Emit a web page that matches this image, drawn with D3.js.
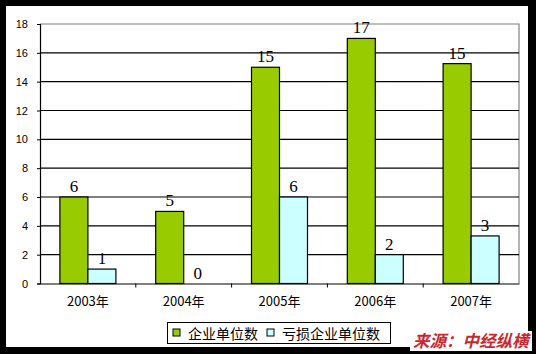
<!DOCTYPE html>
<html><head><meta charset="utf-8">
<script src="https://cdn.jsdelivr.net/npm/d3@7"></script>
<style>body{margin:0;background:#000;}svg{display:block;}</style>
</head><body>
<svg id="c" width="536" height="354"></svg>
<script>
const categories = ["2003年","2004年","2005年","2006年","2007年"];
const seriesNames = ["企业单位数","亏损企业单位数"];
const enterprises = [6, 5, 15, 17, 15.25];
const lossEnterprises = [1, 0, 6, 2, 3.3];
const yTicks = [0,2,4,6,8,10,12,14,16,18];
const colors = ["#99cc00","#ccffff"];

const svg = d3.select("#c");
svg.append("rect").attr("width",536).attr("height",354).attr("fill","#000");
svg.append("rect").attr("x",6).attr("y",6).attr("width",522).attr("height",341).attr("fill","#fff");

const L=40, R=519, T=24, B=283.5;
const x = d3.scaleBand().domain(categories).range([L,R]);
const xs = d3.scaleBand().domain([0,1]).range([0,56]);
const y = d3.scaleLinear().domain([0,18]).range([B,T]);

// plot border (gray top/right)
svg.append("path").attr("d",`M${L},${T}H${R}V${B}`).attr("fill","none").attr("stroke","#808080").attr("stroke-width",1.2);
// gridlines
svg.append("g").selectAll("line").data(yTicks.filter(t=>t>0&&t<18)).join("line")
  .attr("x1",L).attr("x2",R).attr("y1",d=>y(d)).attr("y2",d=>y(d))
  .attr("stroke","#000").attr("stroke-width",1.2);

const data = [enterprises, lossEnterprises];
const g = svg.append("g");
data.forEach((vals,si)=>{
  g.selectAll(".b"+si).data(vals).join("rect")
    .attr("x",(d,i)=>x(categories[i])+(x.bandwidth()-56)/2+xs(si))
    .attr("y",d=>y(d)).attr("width",xs.bandwidth()).attr("height",d=>B-y(d))
    .attr("fill",colors[si]).attr("stroke","#000").attr("stroke-width",1.2);
  g.selectAll(".t"+si).data(vals).join("text")
    .attr("x",(d,i)=>x(categories[i])+(x.bandwidth()-56)/2+xs(si)+xs.bandwidth()/2)
    .attr("y",d=>y(d)-5)
    .attr("text-anchor","middle").attr("font-family","Liberation Serif, serif").attr("font-size",17)
    .attr("fill","#000").text(d=>d3.format(".0f")(d));
});

// y axis
const ya = svg.append("g").attr("transform",`translate(${L},0)`)
  .call(d3.axisLeft(y).tickValues(yTicks).tickSize(3).tickPadding(9));
ya.select(".domain").attr("stroke","#000").attr("stroke-width",1.2);
ya.selectAll("line").attr("stroke","#000");
ya.selectAll("text").attr("font-family","Liberation Sans, Arial, sans-serif").attr("font-size",11).attr("fill","#000");

// x axis
const xa = svg.append("g").attr("transform",`translate(0,${B})`)
  .call(d3.axisBottom(x).tickSize(0).tickPadding(13));
xa.select(".domain").attr("stroke","#000").attr("stroke-width",1.2);
xa.selectAll("text").attr("font-family","Noto Sans CJK SC, sans-serif").attr("font-size",13).attr("fill","#000");
svg.append("g").selectAll("line").data(categories.slice(1)).join("line")
  .attr("x1",d=>x(d)).attr("x2",d=>x(d)).attr("y1",B).attr("y2",B+4).attr("stroke","#000");

// legend
const lg = svg.append("g");
lg.append("rect").attr("x",167.5).attr("y",322.5).attr("width",223).attr("height",21).attr("fill","#fff").attr("stroke","#000");
const lx = [173, 267];
seriesNames.forEach((n,i)=>{
  lg.append("rect").attr("x",lx[i]).attr("y",329).attr("width",7).attr("height",7).attr("fill",colors[i]).attr("stroke","#000");
  lg.append("text").attr("x",lx[i]+15).attr("y",338.5).attr("font-family","Noto Sans CJK SC, sans-serif").attr("font-size",14).attr("fill","#000").text(n);
});

// source
svg.append("rect").attr("x",410).attr("y",331).attr("width",122).attr("height",20).attr("fill","#fff");
svg.append("text").attr("x",413).attr("y",347).attr("font-family","Noto Sans CJK SC, sans-serif")
  .attr("font-size",16.5).attr("font-weight","bold").attr("font-style","italic").attr("fill","#c8282e")
  .text("来源：中经纵横");
</script>
</body></html>
